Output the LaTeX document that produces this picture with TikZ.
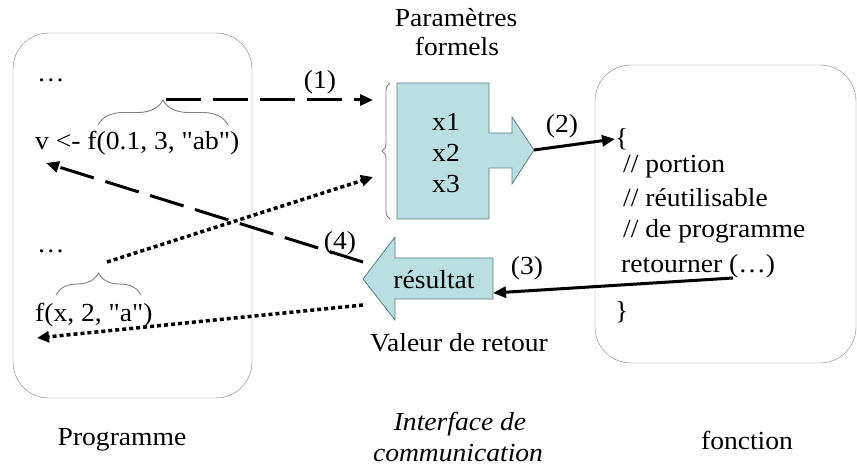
\documentclass[tikz,border=0pt]{standalone}
\usepackage{fontspec}
\setmainfont{Liberation Serif}[FakeStretch=1.06]
\newfontfamily\droit{Liberation Serif}[FakeStretch=1.06]
\newcommand\guill{{\droit"}}
\usetikzlibrary{arrows.meta,decorations.pathreplacing}
\definecolor{bleuclair}{RGB}{185,223,227}
\definecolor{bordbleu}{RGB}{95,125,130}
\begin{document}
\begin{tikzpicture}[x=1pt,y=-1pt,font=\fontsize{26}{30}\selectfont,
    boite/.style={draw=gray,rounded corners=36pt},
    forme/.style={fill=bleuclair,draw=bordbleu,line width=0.8pt},
    accolade/.style={draw=gray,line width=0.9pt,decorate,decoration={brace,amplitude=#1}},
    trait/.style={line width=3pt,-{Triangle[length=13pt,width=11pt]}},
    tirets/.style={trait,dash pattern=on 35pt off 12pt},
    points/.style={line width=3.5pt,dash pattern=on 4pt off 3pt,-{Triangle[length=12pt,width=11pt]}}]
    \useasboundingbox (0,0) rectangle (857,473);
    % boites programme et fonction
    \draw[boite] (13,33) rectangle (252,398);
    \draw[boite] (595,65) rectangle (856,363);
    % formes bleues
    \draw[forme] (397,83) -- (489,83) -- (489,133) -- (512,133) -- (512,117) -- (534,150)
        -- (512,184) -- (512,168) -- (489,168) -- (489,219) -- (397,219) -- cycle;
    \draw[forme] (493,258) -- (493,299) -- (395,299) -- (395,320) -- (363,279)
        -- (395,237) -- (395,258) -- cycle;
    \begin{scope}[every node/.style={inner sep=0pt}]
        \node[anchor=west] (D1) at (37,80) {…};
        \node[anchor=west] (V) at (35,143) {v <- f(0.1, 3, \guill ab\guill)};
        \node[anchor=west] (D2) at (37,251) {…};
        \node[anchor=west] (F) at (35,315) {f(x, 2, \guill a\guill)};
        \node (PA) at (456,18) {Paramètres};
        \node (FO) at (457,46) {formels};
        \node (X1) at (446,122) {x1};
        \node (X2) at (446,153) {x2};
        \node (X3) at (446,184) {x3};
        \node (RE) at (434,280) {résultat};
        \node (VR) at (459,343) {Valeur de retour};
        \node[anchor=west] (AO) at (615,139) {\{};
        \node[anchor=west] (L1) at (623,167) {// portion};
        \node[anchor=west] (L2) at (623,198) {// réutilisable};
        \node[anchor=west] (L3) at (623,231) {// de programme};
        \node[anchor=west] (L4) at (621,266) {retourner (…)};
        \node[anchor=west] (AF) at (615,312) {\}};
        \node (N1) at (320,82) {(1)};
        \node (N2) at (562,126) {(2)};
        \node (N3) at (527,268) {(3)};
        \node (N4) at (340,243) {(4)};
        \node (PR) at (122,440) {Programme};
        \node[font=\fontsize{26}{30}\selectfont\itshape] (IN) at (460,424) {Interface de};
        \node[font=\fontsize{26}{30}\selectfont\itshape] (CO) at (458,453) {communication};
        \node (FC) at (747,440) {fonction};
    \end{scope}
    % accolades
    \draw[accolade=25pt] (98,125) -- (228,125);
    \draw[accolade=22pt] (56,295) -- (141,295);
    \draw[accolade=8pt] (390,219) -- (390,83);
    % points d'attache
    \coordinate (A1) at (166,100);
    \coordinate (A2) at (107,262);
    \coordinate (P1) at (373,100);
    \coordinate (P2) at (373,177);
    \coordinate (PT) at (534,150);
    \coordinate (RT) at (733,278);
    \coordinate (RB) at (493,293);
    \coordinate (R4) at (363,262);
    \coordinate (R5) at (363,305);
    \coordinate (V1) at (46,163);
    \coordinate (F1) at (37,338);
    % connecteurs
    \draw[tirets] (A1) -- (P1);
    \draw[points] (A2) -- (P2);
    \draw[trait] (PT) -- (AO.west);
    \draw[trait] (RT) -- (RB);
    \draw[tirets] (R4) -- (V1);
    \draw[points] (R5) -- (F1);
\end{tikzpicture}
\end{document}
